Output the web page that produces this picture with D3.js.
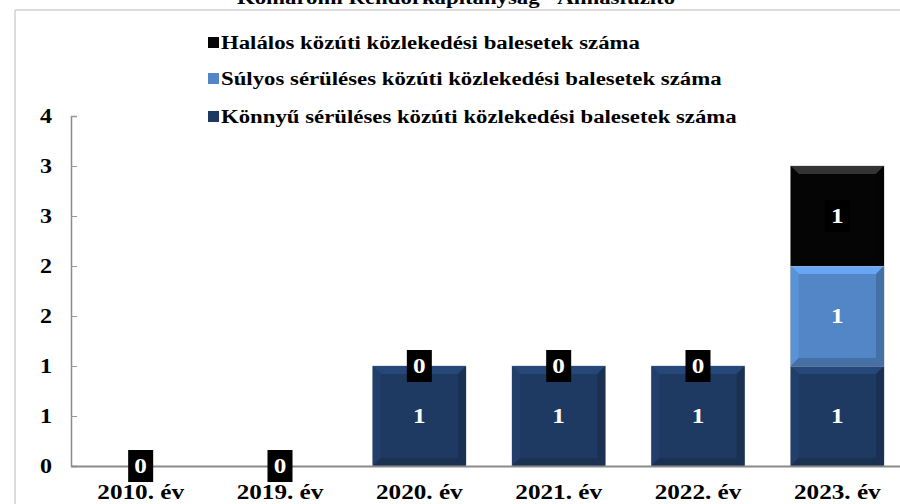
<!DOCTYPE html>
<html>
<head>
<meta charset="utf-8">
<script src="https://cdn.jsdelivr.net/npm/d3@7/dist/d3.min.js"></script>
<style>
  html, body { margin: 0; padding: 0; background: #fff; }
  svg text { font-family: "Liberation Serif", "Times New Roman", serif; font-weight: bold; }
</style>
</head>
<body>
<div id="chart"></div>
<script>
// chart data
const title = "Komáromi Rendőrkapitányság - Almásfüzitő";
const categories = ["2010. év", "2019. év", "2020. év", "2021. év", "2022. év", "2023. év"];
const konnyu = [0, 0, 1, 1, 1, 1];
const sulyos = [0, 0, 0, 0, 0, 1];
const halalos = [0, 0, 0, 0, 0, 1];
const seriesNames = [
  "Könnyű sérüléses közúti közlekedési balesetek száma",
  "Súlyos sérüléses közúti közlekedési balesetek száma",
  "Halálos közúti közlekedési balesetek száma"
];
const yTicks = [0, 0.5, 1, 1.5, 2, 2.5, 3, 3.5];

const width = 900, height = 504;
const seriesColors = ["#1f3a62", "#5286c6", "#050505"];
const STRETCH = 1.2; // the original text is a bit wide

let svg = d3.select("#chart").append("svg")
  .attr("width", width)
  .attr("height", height);

// wide text helper
function wideText(parent, tx, ty, str, size, anchor, fill) {
  return parent.append("text")
    .attr("transform", `translate(${tx},${ty}) scale(${STRETCH},1)`)
    .attr("text-anchor", anchor)
    .attr("fill", fill || "#000")
    .style("font-size", size + "px")
    .text(str);
}

// frame of the chart area (title sits above it, cut off)
svg.append("line").attr("x1", 15).attr("x2", width).attr("y1", 10).attr("y2", 10)
  .attr("stroke", "#cfcfcf").attr("stroke-width", 1.5);
svg.append("line").attr("x1", 15).attr("x2", 15).attr("y1", 10).attr("y2", height)
  .attr("stroke", "#cfcfcf").attr("stroke-width", 1.5);

wideText(svg, 456, 4, title, 19, "middle");

let x = d3.scaleBand()
  .domain(categories)
  .range([71, 907])
  .paddingInner(0.33)
  .paddingOuter(0.165);

let y = d3.scaleLinear()
  .domain([0, 3.5])
  .range([466, 116]);

// y axis
let yAxis = svg.append("g")
  .attr("transform", "translate(71,0)")
  .call(d3.axisRight(y).tickValues(yTicks).tickSize(6).tickFormat(""));
yAxis.select(".domain").attr("stroke", "#8a8a8a").attr("stroke-width", 1.5);
yAxis.selectAll(".tick line").attr("stroke", "#9a9a9a");

let yLab = svg.append("g");
yTicks.forEach(d => wideText(yLab, 52, y(d) + 7, Math.round(d), 20, "end"));

// stacked segments
let rows = categories.map((c, i) => ({cat: c, v: [konnyu[i], sulyos[i], halalos[i]]}));
let segs = [];
rows.forEach(r => {
  let base = 0;
  r.v.forEach((v, s) => {
    segs.push({cat: r.cat, s: s, y0: base, y1: base + v, v: v});
    base += v;
  });
});

function bevel(g, d) {
  let x0 = x(d.cat), w = x.bandwidth();
  let top = y(d.y1), bot = y(d.y0), h = bot - top;
  if (h <= 0) return;
  let b = Math.min(8, h / 4);
  let col = d3.color(seriesColors[d.s]);
  let light = d.s === 2 ? d3.color("#333") : col.brighter(0.6);
  let dark = col.darker(0.5);
  g.append("rect").attr("x", x0).attr("y", top).attr("width", w).attr("height", h)
    .attr("fill", col).attr("stroke", "#b5bcc6").attr("stroke-width", 0.8);
  g.append("polygon")
    .attr("points", [[x0, top], [x0 + w, top], [x0 + w - b, top + b], [x0 + b, top + b]].join(" "))
    .attr("fill", light);
  g.append("polygon")
    .attr("points", [[x0, top], [x0 + b, top + b], [x0 + b, bot - b], [x0, bot]].join(" "))
    .attr("fill", col.brighter(0.25));
  g.append("polygon")
    .attr("points", [[x0 + w, top], [x0 + w - b, top + b], [x0 + w - b, bot - b], [x0 + w, bot]].join(" "))
    .attr("fill", dark);
  g.append("polygon")
    .attr("points", [[x0, bot], [x0 + b, bot - b], [x0 + w - b, bot - b], [x0 + w, bot]].join(" "))
    .attr("fill", dark);
}

let barG = svg.append("g");
segs.forEach(d => bevel(barG, d));

// x axis
let xAxis = svg.append("g")
  .attr("transform", "translate(0,466)")
  .call(d3.axisBottom(x).tickSize(0).tickFormat(""));
xAxis.select(".domain").attr("stroke", "#8a8a8a").attr("stroke-width", 2);

let xLab = svg.append("g");
categories.forEach(c => wideText(xLab, x(c) + x.bandwidth() / 2, 499, c, 21, "middle"));

// data labels
let labelG = svg.append("g");
segs.forEach(d => {
  let cx = x(d.cat) + x.bandwidth() / 2;
  let cy = (y(d.y0) + y(d.y1)) / 2;
  if (d.s === 2) {
    labelG.append("rect")
      .attr("x", cx - 12.5).attr("y", cy - 16)
      .attr("width", 25).attr("height", 32)
      .attr("fill", "#000");
  }
  wideText(labelG, cx, cy + 7, d.v, 21, "middle", "#fff");
});

// legend (reversed order)
let legendY = [43, 79, 117];
let legend = svg.append("g");
[2, 1, 0].forEach((s, i) => {
  legend.append("rect")
    .attr("x", 208).attr("y", legendY[i] - 6)
    .attr("width", 11).attr("height", 11)
    .attr("fill", seriesColors[s]);
  wideText(legend, 221, legendY[i] + 6, seriesNames[s], 19, "start");
});
</script>
</body>
</html>
